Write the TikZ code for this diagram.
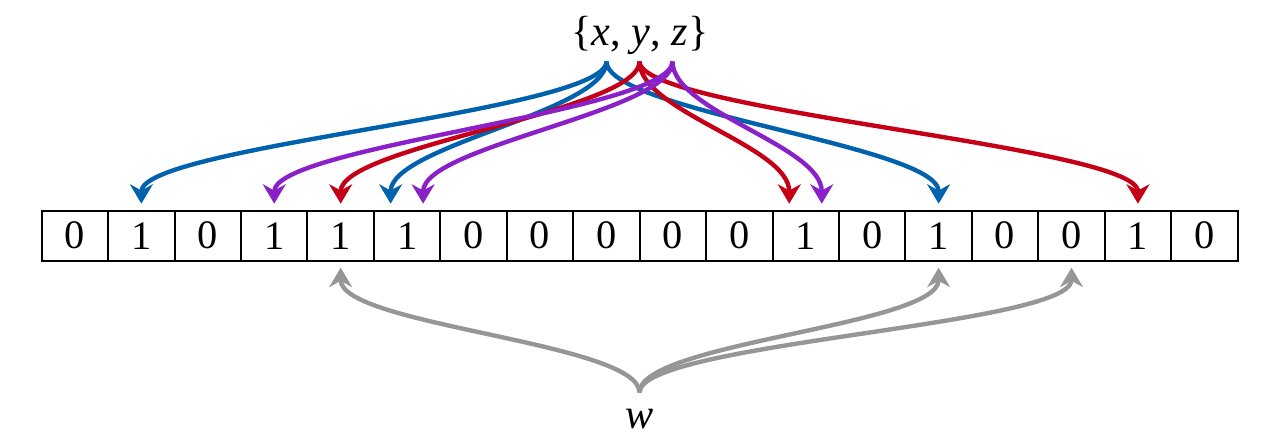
\documentclass[tikz,border=0pt]{standalone}
\usepackage{fontspec}
\setmainfont{Liberation Serif}
\usetikzlibrary{arrows.meta,positioning}
\definecolor{hashblue}{RGB}{0,98,172}
\definecolor{hashred}{RGB}{197,0,22}
\definecolor{hashpurple}{RGB}{138,32,200}
\definecolor{hashgray}{RGB}{150,150,150}

\begin{document}
\begin{tikzpicture}[node distance=1.3288cm,on grid,
    cell/.style={draw,line width=1.1pt,minimum width=1.3288cm,minimum height=1cm,
      inner sep=0pt,outer sep=0pt,font=\fontsize{23}{23}\selectfont},
    elem/.style={inner sep=0pt,font=\fontsize{24}{24}\selectfont},
    hash/.style={line width=2.5pt,shorten >=4pt,
      -{Stealth[length=11pt,width=13pt,inset=3.5pt]}},
    hashdown/.style={to path={.. controls +(0,-1) and +(0,1.3) .. (\tikztotarget)}},
    hashup/.style={to path={.. controls +(0,1) and +(0,-1.3) .. (\tikztotarget)}}]
   \useasboundingbox (0,0) rectangle (25.6,8.88);
   % the bit array
   \node[cell] (c0) at (1.4984,4.166) {0};
   \foreach \b [count=\i, remember=\i as \j (initially 0)] in {1,0,1,1,1,0,0,0,0,0,1,0,1,0,0,1,0}
     \node[cell] (c\i) [right=of c\j] {\b};
   % elements
   \node[elem] (set) at (12.8,8.17) {\{\textit{x}, \textit{y}, \textit{z}\}};
   \node[elem,anchor=base] (w) at (12.8,0.32) {\textit{w}};
   \coordinate (xs) at (12.13,7.65);
   \coordinate (ys) at (12.79,7.65);
   \coordinate (zs) at (13.45,7.65);
   \coordinate (ws) at (12.79,1.03);
   \coordinate (c5x) at ([xshift=-0.33cm]c5.north);
   \coordinate (c5z) at ([xshift=0.32cm]c5.north);
   \coordinate (c11y) at ([xshift=-0.33cm]c11.north);
   \coordinate (c11z) at ([xshift=0.32cm]c11.north);
   % hashes
   \path[hash,hashblue]
    (xs) edge[hashdown] (c1.north)
         edge[hashdown] (c5x)
         edge[hashdown] (c13.north);
   \path[hash,hashred]
    (ys) edge[hashdown] (c4.north)
         edge[hashdown] (c11y)
         edge[hashdown] (c16.north);
   \path[hash,hashpurple]
    (zs) edge[hashdown] (c3.north)
         edge[hashdown] (c5z)
         edge[hashdown] (c11z);
   \path[hash,hashgray]
    (ws) edge[hashup] (c4.south)
         edge[hashup] (c13.south)
         edge[hashup] (c15.south);
\end{tikzpicture}
\end{document}
